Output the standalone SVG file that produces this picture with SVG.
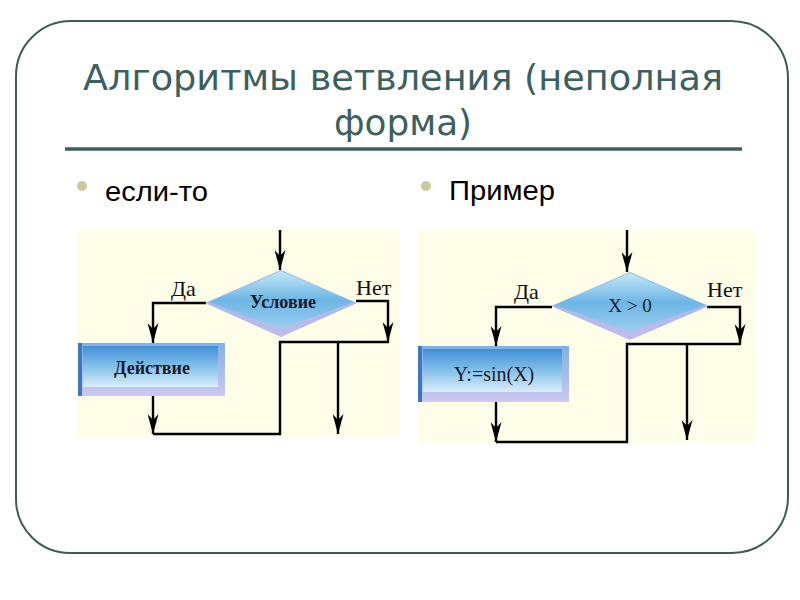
<svg xmlns="http://www.w3.org/2000/svg" width="800" height="600" viewBox="0 0 800 600">
<defs>
<style>
.title{font-family:"DejaVu Sans Condensed","DejaVu Sans",sans-serif;font-size:36px;fill:#3a615d}
.bullet{font-family:"Liberation Sans",Arial,sans-serif;font-size:27px;fill:#000}
.lbl{font-family:"Liberation Serif","Times New Roman",serif;font-size:22px;fill:#111}
.node{font-family:"Liberation Serif","Times New Roman",serif;font-size:18px;font-weight:bold;fill:#1a1a2a;text-anchor:middle}
.ln{fill:none;stroke:#000;stroke-width:2.4}
.panel{fill:#fdfde8}
</style>
<marker id="ah" viewBox="0 0 20 11" refX="20" refY="5.5" markerWidth="20" markerHeight="11" markerUnits="userSpaceOnUse" orient="auto">
<path d="M0,0 L20,5.5 L0,11 L6,5.5 z" fill="#000"/>
</marker>
<linearGradient id="dface" x1="0" y1="0" x2="0" y2="1">
<stop offset="0" stop-color="#c4e8f8"/>
<stop offset="0.5" stop-color="#6cb6e4"/>
<stop offset="1" stop-color="#9ccdee"/>
</linearGradient>
<linearGradient id="dbev" x1="0" y1="0" x2="0" y2="1">
<stop offset="0" stop-color="#8fb8e6"/>
<stop offset="1" stop-color="#c2bcec"/>
</linearGradient>
<linearGradient id="rface" x1="0" y1="0" x2="0" y2="1">
<stop offset="0" stop-color="#3f8fd6"/>
<stop offset="0.55" stop-color="#8cc6ec"/>
<stop offset="1" stop-color="#d8eef8"/>
</linearGradient>
<linearGradient id="rbev" x1="0" y1="0" x2="0" y2="1">
<stop offset="0" stop-color="#7fb2e4"/>
<stop offset="1" stop-color="#cdc8f0"/>
</linearGradient>
</defs>
<rect width="800" height="600" fill="#ffffff"/>
<path d="M72,21 H731 A57,57 0 0 1 788,78 V497 A56,56 0 0 1 732,553 H70 A54,54 0 0 1 16,499 V76 A55,55 0 0 1 72,21 Z" fill="none" stroke="#3f5a58" stroke-width="2"/>
<g id="title">
<text class="title" x="83" y="90" textLength="640" lengthAdjust="spacingAndGlyphs">Алгоритмы ветвления (неполная</text>
<text class="title" x="334" y="135" textLength="138" lengthAdjust="spacingAndGlyphs">форма)</text>
</g>
<line x1="65" y1="149" x2="742" y2="149" stroke="#3d5f5b" stroke-width="3.5"/>
<g id="bullet1">
<circle cx="82" cy="186" r="5" fill="#c9c99c"/>
<text class="bullet" x="105" y="201" textLength="103" lengthAdjust="spacingAndGlyphs">если-то</text>
</g>
<g id="bullet2">
<circle cx="426" cy="186" r="5" fill="#c9c99c"/>
<text class="bullet" x="449" y="200" textLength="106" lengthAdjust="spacingAndGlyphs">Пример</text>
</g>
<rect class="panel" x="78" y="230" width="322" height="208"/>
<rect class="panel" x="418" y="230" width="337" height="213"/>

<g id="connectors">
<path class="ln" d="M280,230 V270" marker-end="url(#ah)"/>
<path class="ln" d="M206,303 H153 V343" marker-end="url(#ah)"/>
<path class="ln" d="M356,301 H388 V342" marker-end="url(#ah)"/>
<path class="ln" d="M153,396 V434" marker-end="url(#ah)"/>
<path class="ln" d="M153,434 H280 V342 H389"/>
<path class="ln" d="M338,342 V434" marker-end="url(#ah)"/>

<path class="ln" d="M627,230 V272" marker-end="url(#ah)"/>
<path class="ln" d="M552,307 H496 V346" marker-end="url(#ah)"/>
<path class="ln" d="M707,307 H740 V344" marker-end="url(#ah)"/>
<path class="ln" d="M496,402 V442" marker-end="url(#ah)"/>
<path class="ln" d="M496,442 H627 V344 H741"/>
<path class="ln" d="M687,344 V440" marker-end="url(#ah)"/>
</g>

<g id="cond1">
<polygon points="205,303 281,270 357,303 281,337" fill="url(#dbev)"/>
<polygon points="209,302 281,271 353,302 281,329" fill="url(#dface)"/>
<text class="node" x="283" y="308">Условие</text>
</g>
<g id="label-da1"><text class="lbl" x="171" y="296">Да</text></g>
<g id="label-net1"><text class="lbl" x="356" y="295">Нет</text></g>
<g id="action1">
<rect x="78" y="343" width="147" height="53" fill="url(#rbev)"/>
<rect x="78" y="343" width="4" height="53" fill="#3a78c4"/>
<rect x="83" y="346" width="135" height="41" fill="url(#rface)"/>
<text class="node" x="152" y="374">Действие</text>
</g>

<g id="cond2">
<polygon points="551,306 630,272 709,306 630,340" fill="url(#dbev)"/>
<polygon points="555,305 630,273 705,305 630,332" fill="url(#dface)"/>
<text class="node" x="630" y="312" style="font-weight:normal;font-size:19px">X &gt; 0</text>
</g>
<g id="label-da2"><text class="lbl" x="514" y="299">Да</text></g>
<g id="label-net2"><text class="lbl" x="707" y="297">Нет</text></g>
<g id="action2">
<rect x="418" y="346" width="151" height="56" fill="url(#rbev)"/>
<rect x="418" y="346" width="4" height="56" fill="#3a78c4"/>
<rect x="423" y="349" width="139" height="43" fill="url(#rface)"/>
<text class="node" x="494" y="381" style="font-weight:normal;font-size:20px">Y:=sin(X)</text>
</g>
</svg>
